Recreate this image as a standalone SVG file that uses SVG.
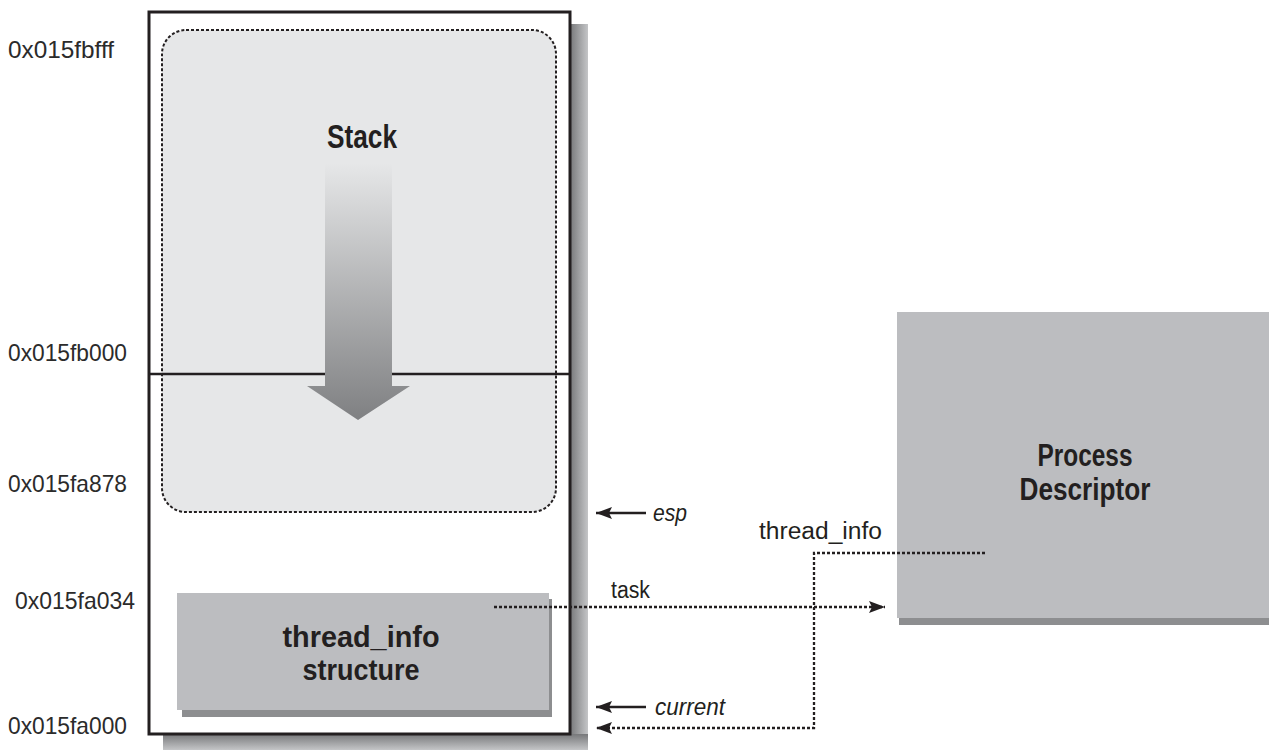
<svg xmlns="http://www.w3.org/2000/svg" width="1269" height="754" viewBox="0 0 1269 754">
<defs>
<style>
.addr{font-family:"Liberation Sans",Arial,sans-serif;font-size:24px;fill:#2b2b2b}
.lbl{font-family:"Liberation Sans",Arial,sans-serif;font-size:23px;fill:#231f20}
.it{font-family:"Liberation Sans",Arial,sans-serif;font-size:23px;font-style:italic;fill:#231f20}
.bold{font-family:"Liberation Sans",Arial,sans-serif;font-weight:bold;fill:#231f20;text-anchor:middle}
.dot{fill:none;stroke:#231f20;stroke-width:2.3;stroke-dasharray:3 2}
.solid{fill:none;stroke:#231f20;stroke-width:2.5}
</style>
<linearGradient id="shaft" x1="0" y1="0" x2="0" y2="1">
<stop offset="0" stop-color="#e6e7e8"/>
<stop offset="1" stop-color="#7f8082"/>
</linearGradient>
<linearGradient id="shR" x1="0" y1="0" x2="1" y2="0">
<stop offset="0" stop-color="#77787a"/>
<stop offset="1" stop-color="#c4c5c7"/>
</linearGradient>
<linearGradient id="shB" x1="0" y1="0" x2="0" y2="1">
<stop offset="0" stop-color="#77787a"/>
<stop offset="1" stop-color="#c4c5c7"/>
</linearGradient>
<marker id="ah" viewBox="0 0 16 12" refX="16" refY="6" markerWidth="16" markerHeight="12" markerUnits="userSpaceOnUse" orient="auto">
<path d="M0,0 L16,6 L0,12 L3,6 Z" fill="#231f20"/>
</marker>
</defs>

<g id="memory-block">
<rect x="570" y="24" width="18" height="726" fill="url(#shR)"/>
<rect x="163" y="734" width="425" height="16" fill="url(#shB)"/>
<rect x="149" y="12" width="421" height="722" fill="#ffffff" stroke="#231f20" stroke-width="3"/>
</g>

<g id="stack-region">
<rect x="162" y="30" width="394" height="482" rx="24" ry="24" fill="#e6e7e8" stroke="#231f20" stroke-width="2" stroke-dasharray="3 2"/>
<line x1="149" y1="374" x2="570" y2="374" stroke="#231f20" stroke-width="2.5"/>
<path d="M325,163 L392,163 L392,386 L410,386 L358,420 L307,386 L325,386 Z" fill="url(#shaft)"/>
<text class="bold" x="362" y="148" font-size="33" textLength="70" lengthAdjust="spacingAndGlyphs">Stack</text>
</g>

<g id="thread-info">
<rect x="182" y="599" width="370" height="118" fill="#8d8e90"/>
<rect x="177" y="593" width="372" height="117" fill="#bcbdc0"/>
<text class="bold" x="361" y="647" font-size="29" textLength="157" lengthAdjust="spacingAndGlyphs">thread_info</text>
<text class="bold" x="361" y="680" font-size="29" textLength="117" lengthAdjust="spacingAndGlyphs">structure</text>
</g>

<g id="process-descriptor">
<rect x="899" y="318" width="370" height="307" fill="#8d8e90"/>
<rect x="897" y="312" width="372" height="306" fill="#bcbdc0"/>
<text class="bold" x="1085" y="466" font-size="31" textLength="95" lengthAdjust="spacingAndGlyphs">Process</text>
<text class="bold" x="1085" y="500" font-size="31" textLength="131" lengthAdjust="spacingAndGlyphs">Descriptor</text>
</g>

<g id="addresses">
<text class="addr" x="8" y="58" textLength="106" lengthAdjust="spacingAndGlyphs">0x015fbfff</text>
<text class="addr" x="8" y="361" textLength="119" lengthAdjust="spacingAndGlyphs">0x015fb000</text>
<text class="addr" x="8" y="492" textLength="119" lengthAdjust="spacingAndGlyphs">0x015fa878</text>
<text class="addr" x="15" y="609" textLength="120" lengthAdjust="spacingAndGlyphs">0x015fa034</text>
<text class="addr" x="8" y="734" textLength="119" lengthAdjust="spacingAndGlyphs">0x015fa000</text>
</g>

<g id="connectors">
<line class="solid" x1="646" y1="513" x2="596" y2="513" marker-end="url(#ah)"/>
<text class="it" x="653" y="521" textLength="34" lengthAdjust="spacingAndGlyphs">esp</text>
<line class="solid" x1="646" y1="707" x2="596" y2="707" marker-end="url(#ah)"/>
<text class="it" x="655" y="715" textLength="70" lengthAdjust="spacingAndGlyphs">current</text>
<line class="dot" x1="494" y1="607" x2="885" y2="607" marker-end="url(#ah)"/>
<text class="lbl" x="611" y="598" textLength="39" lengthAdjust="spacingAndGlyphs">task</text>
<polyline class="dot" points="985,553 814,553 814,728 596,728" marker-end="url(#ah)"/>
<text class="lbl" x="759" y="539" textLength="123" lengthAdjust="spacingAndGlyphs">thread_info</text>
</g>
</svg>
